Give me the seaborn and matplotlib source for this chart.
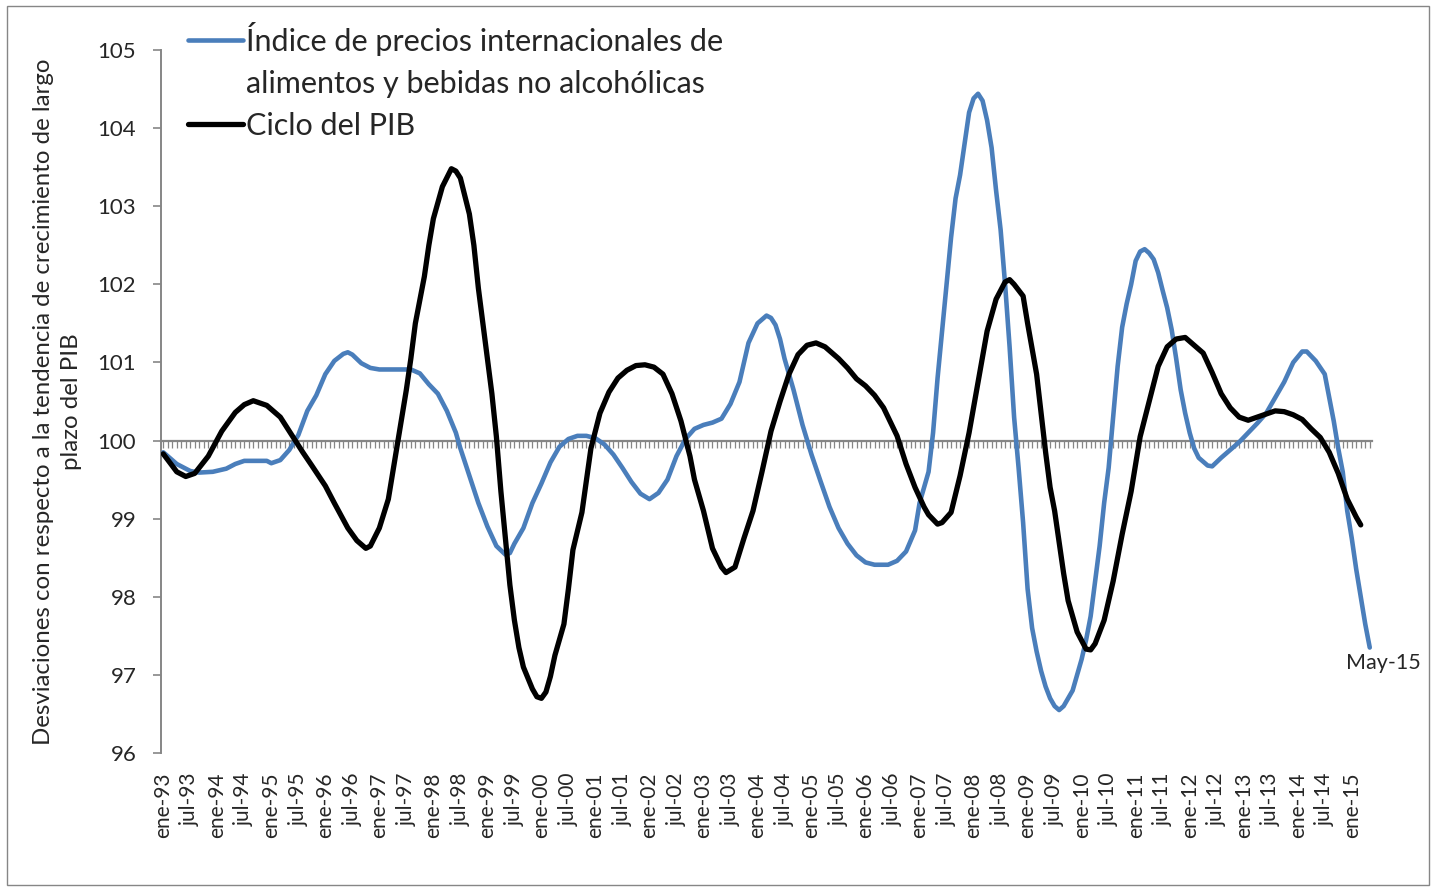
import matplotlib
matplotlib.use("Agg")
import matplotlib.pyplot as plt
from matplotlib.lines import Line2D
from matplotlib.patches import Rectangle
import pandas as pd
import seaborn as sns

# Ciclo del PIB
meses_pib = ['1993-01', '1993-04', '1993-06', '1993-08', '1993-11', '1994-02', '1994-05', '1994-07',
             '1994-09', '1994-12', '1995-03', '1995-06', '1995-08', '1995-10', '1996-01', '1996-03',
             '1996-06', '1996-08', '1996-10', '1996-11', '1997-01', '1997-03', '1997-04', '1997-05',
             '1997-06', '1997-07', '1997-08', '1997-09', '1997-10', '1997-11', '1997-12', '1998-01',
             '1998-03', '1998-05', '1998-06', '1998-07', '1998-09', '1998-10', '1998-11', '1998-12',
             '1999-01', '1999-02', '1999-03', '1999-04', '1999-05', '1999-06', '1999-07', '1999-08',
             '1999-09', '1999-11', '1999-12', '2000-01', '2000-02', '2000-03', '2000-04', '2000-06',
             '2000-07', '2000-08', '2000-10', '2000-12', '2001-02', '2001-04', '2001-06', '2001-08',
             '2001-10', '2001-12', '2002-02', '2002-04', '2002-06', '2002-08', '2002-10', '2002-11',
             '2003-01', '2003-03', '2003-05', '2003-06', '2003-08', '2003-10', '2003-12', '2004-02',
             '2004-04', '2004-06', '2004-08', '2004-10', '2004-12', '2005-02', '2005-04', '2005-07',
             '2005-09', '2005-11', '2006-01', '2006-03', '2006-05', '2006-08', '2006-10', '2006-12',
             '2007-02', '2007-03', '2007-05', '2007-06', '2007-08', '2007-10', '2007-12', '2008-02',
             '2008-04', '2008-06', '2008-08', '2008-09', '2008-10', '2008-12', '2009-01', '2009-03',
             '2009-05', '2009-06', '2009-07', '2009-09', '2009-10', '2009-12', '2010-02', '2010-03',
             '2010-04', '2010-06', '2010-08', '2010-10', '2010-12', '2011-02', '2011-04', '2011-06',
             '2011-08', '2011-10', '2011-12', '2012-02', '2012-04', '2012-06', '2012-08', '2012-10',
             '2012-12', '2013-02', '2013-04', '2013-06', '2013-08', '2013-10', '2013-12', '2014-02',
             '2014-04', '2014-06', '2014-08', '2014-10', '2014-12', '2015-02', '2015-03']
ciclo_pib = [99.83, 99.60, 99.54, 99.58, 99.80, 100.12, 100.36, 100.46,
             100.51, 100.45, 100.30, 100.03, 99.85, 99.68, 99.42, 99.20,
             98.88, 98.72, 98.62, 98.65, 98.88, 99.25, 99.60, 99.95,
             100.30, 100.65, 101.05, 101.50, 101.80, 102.10, 102.50, 102.84,
             103.25, 103.48, 103.45, 103.36, 102.90, 102.50, 101.95, 101.50,
             101.05, 100.60, 100.05, 99.35, 98.75, 98.15, 97.70, 97.35,
             97.10, 96.82, 96.72, 96.70, 96.78, 96.98, 97.25, 97.65,
             98.10, 98.60, 99.08, 99.90, 100.35, 100.62, 100.80, 100.90,
             100.96, 100.97, 100.94, 100.85, 100.60, 100.25, 99.80, 99.50,
             99.10, 98.62, 98.38, 98.31, 98.38, 98.75, 99.10, 99.60,
             100.12, 100.50, 100.85, 101.10, 101.22, 101.25, 101.20, 101.05,
             100.93, 100.79, 100.70, 100.58, 100.42, 100.06, 99.70, 99.40,
             99.15, 99.05, 98.93, 98.95, 99.08, 99.55, 100.10, 100.75,
             101.40, 101.81, 102.03, 102.06, 102.00, 101.85, 101.50, 100.85,
             99.85, 99.40, 99.10, 98.30, 97.95, 97.55, 97.33, 97.32,
             97.40, 97.70, 98.20, 98.80, 99.35, 100.05, 100.50, 100.95,
             101.20, 101.30, 101.32, 101.22, 101.12, 100.87, 100.60, 100.42,
             100.30, 100.26, 100.30, 100.34, 100.38, 100.37, 100.33, 100.27,
             100.15, 100.04, 99.85, 99.58, 99.25, 99.02, 98.92]

# Indice de precios internacionales de alimentos y bebidas no alcoholicas
meses_ipa = ['1993-01', '1993-04', '1993-07', '1993-09', '1993-12', '1994-03', '1994-05', '1994-07',
             '1994-10', '1994-12', '1995-01', '1995-03', '1995-05', '1995-07', '1995-09', '1995-11',
             '1996-01', '1996-03', '1996-05', '1996-06', '1996-07', '1996-09', '1996-11', '1997-01',
             '1997-05', '1997-08', '1997-10', '1997-12', '1998-02', '1998-04', '1998-06', '1998-07',
             '1998-09', '1998-11', '1999-01', '1999-03', '1999-05', '1999-06', '1999-07', '1999-09',
             '1999-11', '2000-01', '2000-03', '2000-05', '2000-07', '2000-09', '2000-11', '2001-01',
             '2001-03', '2001-05', '2001-07', '2001-09', '2001-11', '2002-01', '2002-03', '2002-05',
             '2002-07', '2002-09', '2002-11', '2003-01', '2003-03', '2003-05', '2003-07', '2003-09',
             '2003-11', '2004-01', '2004-03', '2004-04', '2004-05', '2004-06', '2004-07', '2004-09',
             '2004-11', '2005-01', '2005-03', '2005-05', '2005-07', '2005-09', '2005-11', '2006-01',
             '2006-03', '2006-06', '2006-08', '2006-10', '2006-12', '2007-01', '2007-03', '2007-04',
             '2007-05', '2007-06', '2007-07', '2007-08', '2007-09', '2007-10', '2007-11', '2007-12',
             '2008-01', '2008-02', '2008-03', '2008-04', '2008-05', '2008-06', '2008-07', '2008-08',
             '2008-09', '2008-10', '2008-11', '2008-12', '2009-01', '2009-02', '2009-03', '2009-04',
             '2009-05', '2009-06', '2009-07', '2009-08', '2009-09', '2009-10', '2009-11', '2009-12',
             '2010-01', '2010-02', '2010-03', '2010-04', '2010-05', '2010-06', '2010-07', '2010-08',
             '2010-09', '2010-10', '2010-11', '2010-12', '2011-01', '2011-02', '2011-03', '2011-04',
             '2011-05', '2011-06', '2011-07', '2011-08', '2011-09', '2011-10', '2011-11', '2011-12',
             '2012-01', '2012-02', '2012-03', '2012-05', '2012-06', '2012-08', '2012-10', '2012-12',
             '2013-02', '2013-04', '2013-06', '2013-08', '2013-10', '2013-12', '2014-02', '2014-03',
             '2014-05', '2014-07', '2014-08', '2014-09', '2014-10', '2014-11', '2014-12', '2015-01',
             '2015-02', '2015-03', '2015-04', '2015-05']
indice_ipa = [99.85, 99.70, 99.61, 99.59, 99.60, 99.64, 99.70, 99.74,
              99.74, 99.74, 99.71, 99.75, 99.88, 100.07, 100.38, 100.58,
              100.85, 101.02, 101.11, 101.13, 101.10, 100.99, 100.93, 100.91,
              100.91, 100.91, 100.86, 100.72, 100.60, 100.38, 100.10, 99.90,
              99.55, 99.20, 98.90, 98.65, 98.54, 98.56, 98.68, 98.88,
              99.20, 99.45, 99.72, 99.92, 100.02, 100.06, 100.06, 100.03,
              99.95, 99.82, 99.65, 99.47, 99.32, 99.25, 99.33, 99.50,
              99.80, 100.02, 100.15, 100.20, 100.23, 100.28, 100.47, 100.75,
              101.25, 101.50, 101.60, 101.57, 101.48, 101.30, 101.05, 100.65,
              100.20, 99.82, 99.48, 99.15, 98.88, 98.68, 98.53, 98.44,
              98.41, 98.41, 98.46, 98.58, 98.85, 99.20, 99.60, 100.10,
              100.80, 101.40, 102.00, 102.60, 103.10, 103.40, 103.80, 104.20,
              104.38, 104.44, 104.35, 104.10, 103.75, 103.20, 102.70, 102.00,
              101.20, 100.30, 99.65, 98.95, 98.10, 97.60, 97.30, 97.05,
              96.85, 96.70, 96.60, 96.55, 96.60, 96.70, 96.80, 97.00,
              97.20, 97.45, 97.75, 98.20, 98.65, 99.20, 99.65, 100.30,
              100.95, 101.45, 101.75, 102.00, 102.30, 102.42, 102.45, 102.40,
              102.32, 102.15, 101.92, 101.70, 101.42, 101.05, 100.65, 100.35,
              100.10, 99.90, 99.78, 99.68, 99.67, 99.78, 99.88, 99.98,
              100.10, 100.22, 100.35, 100.55, 100.75, 101.00, 101.14, 101.14,
              101.02, 100.85, 100.55, 100.25, 99.90, 99.60, 99.10, 98.75,
              98.35, 98.00, 97.65, 97.35]

abrev_mes = ['ene', 'feb', 'mar', 'abr', 'may', 'jun', 'jul', 'ago', 'sep', 'oct', 'nov', 'dic']
nombres = ['Índice de precios internacionales de alimentos y bebidas no alcohólicas', 'Ciclo del PIB']
leyenda = ['Índice de precios internacionales de', 'alimentos y bebidas no alcohólicas', 'Ciclo del PIB']
titulo_y = 'Desviaciones con respecto a la tendencia de crecimiento de largo\nplazo del PIB'
nota_fin = 'May-15'

AZUL = '#4A7EBB'
GRIS = '#868686'


def indice_mes(s):
    anio, mes = s.split('-')
    return (int(anio) - 1993) * 12 + int(mes) - 1


df = pd.concat([
    pd.DataFrame({'serie': nombres[0], 'mes': [indice_mes(m) for m in meses_ipa], 'valor': indice_ipa}),
    pd.DataFrame({'serie': nombres[1], 'mes': [indice_mes(m) for m in meses_pib], 'valor': ciclo_pib}),
])
n_meses = indice_mes(meses_ipa[-1]) + 1

sns.set_style('white')
plt.rcParams['font.family'] = ['Lato', 'DejaVu Sans']

fig = plt.figure(figsize=(14.35, 8.9), dpi=100)
ax = fig.add_axes([161 / 1435, 1 - 753 / 890, 1211 / 1435, 703 / 890])

sns.lineplot(data=df[df.serie == nombres[0]], x='mes', y='valor', color=AZUL, linewidth=3.3,
             estimator=None, sort=False, ax=ax, zorder=3)
sns.lineplot(data=df[df.serie == nombres[1]], x='mes', y='valor', color='black', linewidth=3.8,
             estimator=None, sort=False, ax=ax, zorder=4)

ax.set_xlim(-0.5, n_meses - 0.5)
ax.set_ylim(96, 105)
ax.set_xlabel('')
ax.set_ylabel(titulo_y, fontsize=17.3, multialignment='center', linespacing=1.44)
ax.yaxis.set_label_coords(-0.065, 0.5)

# eje horizontal cruzando en 100, con marcas mensuales
for lado in ['top', 'right']:
    ax.spines[lado].set_visible(False)
ax.spines['bottom'].set_position(('data', 100))
ax.spines['bottom'].set_color(GRIS)
ax.spines['bottom'].set_linewidth(1.6)
ax.spines['left'].set_color(GRIS)
ax.spines['left'].set_linewidth(1.4)
ax.set_xticks(range(n_meses))
ax.tick_params(axis='x', bottom=True, direction='out', length=5, width=0.9, color=GRIS,
               labelbottom=False)
ax.set_yticks(range(96, 106))
ax.tick_params(axis='y', left=True, direction='out', length=5.8, width=1.2, color=GRIS,
               labelsize=16, pad=12)

# etiquetas de fecha en la parte inferior
pos = list(range(0, n_meses, 6))
etiquetas = [f'{abrev_mes[m % 12]}-{(1993 + m // 12) % 100:02d}' for m in pos]
sec = ax.secondary_xaxis('bottom')
sec.set_xticks(pos, etiquetas, rotation=90, fontsize=15)
sec.tick_params(bottom=True, length=0, pad=14)
sec.spines['bottom'].set_visible(False)

ult = df[df.serie == nombres[0]].iloc[-1]
ax.annotate(nota_fin, xy=(ult.mes, ult.valor), xytext=(10, -11), textcoords='offset points',
            ha='center', va='center', fontsize=15.5)

handles = [Line2D([], [], color=AZUL, lw=3.3), Line2D([], [], color='none'),
           Line2D([], [], color='black', lw=3.8)]
fig.legend(handles, leyenda, loc='upper left', bbox_to_anchor=(188 / 1435, 1 - 22 / 890),
           frameon=False, fontsize=22, handlelength=1.8, handletextpad=0.1,
           labelspacing=0.46, borderpad=0, borderaxespad=0)

fig.patches.append(Rectangle((7 / 1435, 5 / 890), 1422 / 1435, 879 / 890, transform=fig.transFigure,
                             fill=False, edgecolor=GRIS, linewidth=1))

fig.savefig('out.png', dpi=100, facecolor='white')
